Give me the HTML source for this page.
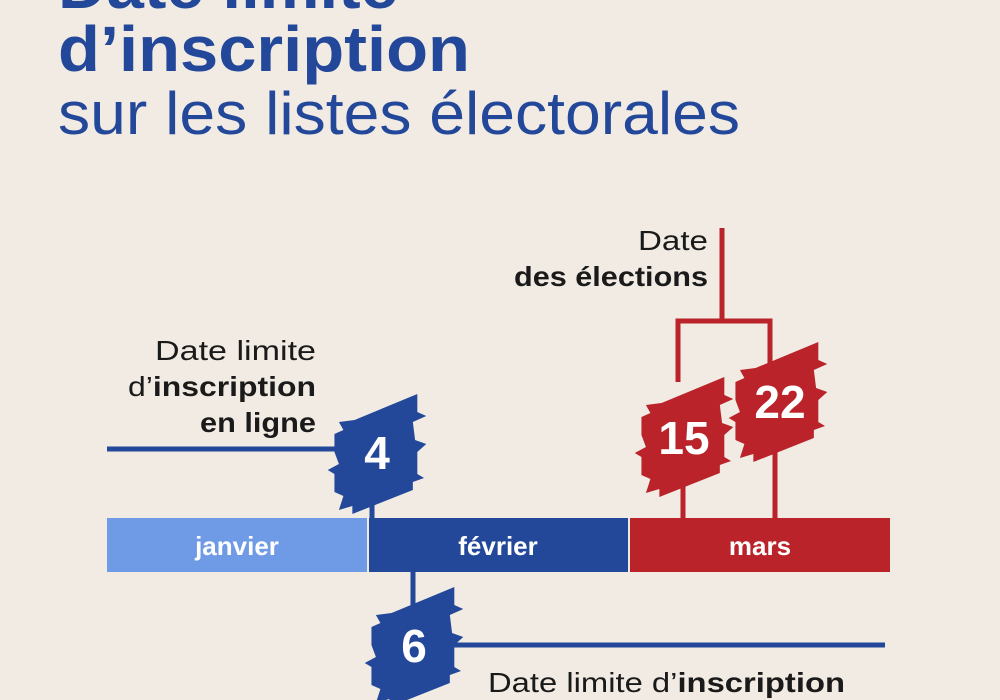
<!DOCTYPE html>
<html><head><meta charset="utf-8"><style>
html,body{margin:0;padding:0;background:#f1ebe4;}
svg{display:block}
text{font-family:"Liberation Sans",sans-serif}
</style></head><body>
<svg width="1000" height="700" viewBox="0 0 1000 700">
<defs>
<path id="badge" d="M-38,-18 L-30,-22 L-34,-30 L-20,-32 L36,-58 L36,-40 L44,-36 L32,-30 L34,-12 L44,-8 L36,0 L36,22 L42,26 L32,30 L32,38 L-22,62 L-22,54 L-34,58 L-30,44 L-38,40 L-38,22 L-44,18 L-34,12 L-38,0 Z"/>
</defs>
<rect width="1000" height="700" fill="#f1ebe4"/>
<g fill="#23489a">
<text x="58" y="8" font-size="64" font-weight="bold" textLength="340" lengthAdjust="spacingAndGlyphs">Date limite</text>
<text x="58" y="71" font-size="64" font-weight="bold" textLength="412" lengthAdjust="spacingAndGlyphs">d’inscription</text>
<text x="58" y="134" font-size="60" textLength="682" lengthAdjust="spacingAndGlyphs">sur les listes électorales</text>
</g>
<g stroke="#23489a" stroke-width="5" fill="none">
<line x1="107" y1="449" x2="345" y2="449"/>
<line x1="372" y1="490" x2="372" y2="520"/>
<line x1="413" y1="570" x2="413" y2="605"/>
<line x1="450" y1="645" x2="885" y2="645"/>
</g>
<g stroke="#b92329" stroke-width="5" fill="none">
<polyline points="722,228 722,321"/>
<polyline points="678,382 678,321 770,321 770,370"/>
<line x1="683" y1="470" x2="683" y2="520"/>
<line x1="775" y1="440" x2="775" y2="520"/>
</g>
<rect x="107" y="518" width="260" height="54" fill="#6f9be6"/>
<rect x="369" y="518" width="259" height="54" fill="#23489a"/>
<rect x="630" y="518" width="260" height="54" fill="#b92329"/>
<g fill="#fff" font-size="26" font-weight="bold" text-anchor="middle">
<text x="237" y="555">janvier</text>
<text x="498" y="555">février</text>
<text x="760" y="555">mars</text>
</g>
<g transform="translate(377,452) scale(1.12,1)"><use href="#badge" fill="#23489a"/></g>
<g transform="translate(414,645) scale(1.12,1)"><use href="#badge" fill="#23489a"/></g>
<g transform="translate(684,435) scale(1.12,1)"><use href="#badge" fill="#b92329"/></g>
<g transform="translate(778,400) scale(1.12,1)"><use href="#badge" fill="#b92329"/></g>
<g fill="#fff" font-size="46" font-weight="bold" text-anchor="middle">
<text x="377" y="469">4</text>
<text x="414" y="662">6</text>
<text x="684" y="454">15</text>
<text x="780" y="418">22</text>
</g>
<g fill="#1a1a1a" font-size="28" text-anchor="end">
<text x="708" y="250" textLength="70" lengthAdjust="spacingAndGlyphs">Date</text>
<text x="708" y="286" font-weight="bold" textLength="194" lengthAdjust="spacingAndGlyphs">des élections</text>
<text x="316" y="360" textLength="161" lengthAdjust="spacingAndGlyphs">Date limite</text>
<text x="316" y="396" textLength="188" lengthAdjust="spacingAndGlyphs">d’<tspan font-weight="bold">inscription</tspan></text>
<text x="316" y="432" font-weight="bold" textLength="116" lengthAdjust="spacingAndGlyphs">en ligne</text>
</g>
<text x="488" y="692" font-size="28" fill="#1a1a1a" textLength="357" lengthAdjust="spacingAndGlyphs">Date limite d’<tspan font-weight="bold">inscription</tspan></text>
</svg>
</body></html>
